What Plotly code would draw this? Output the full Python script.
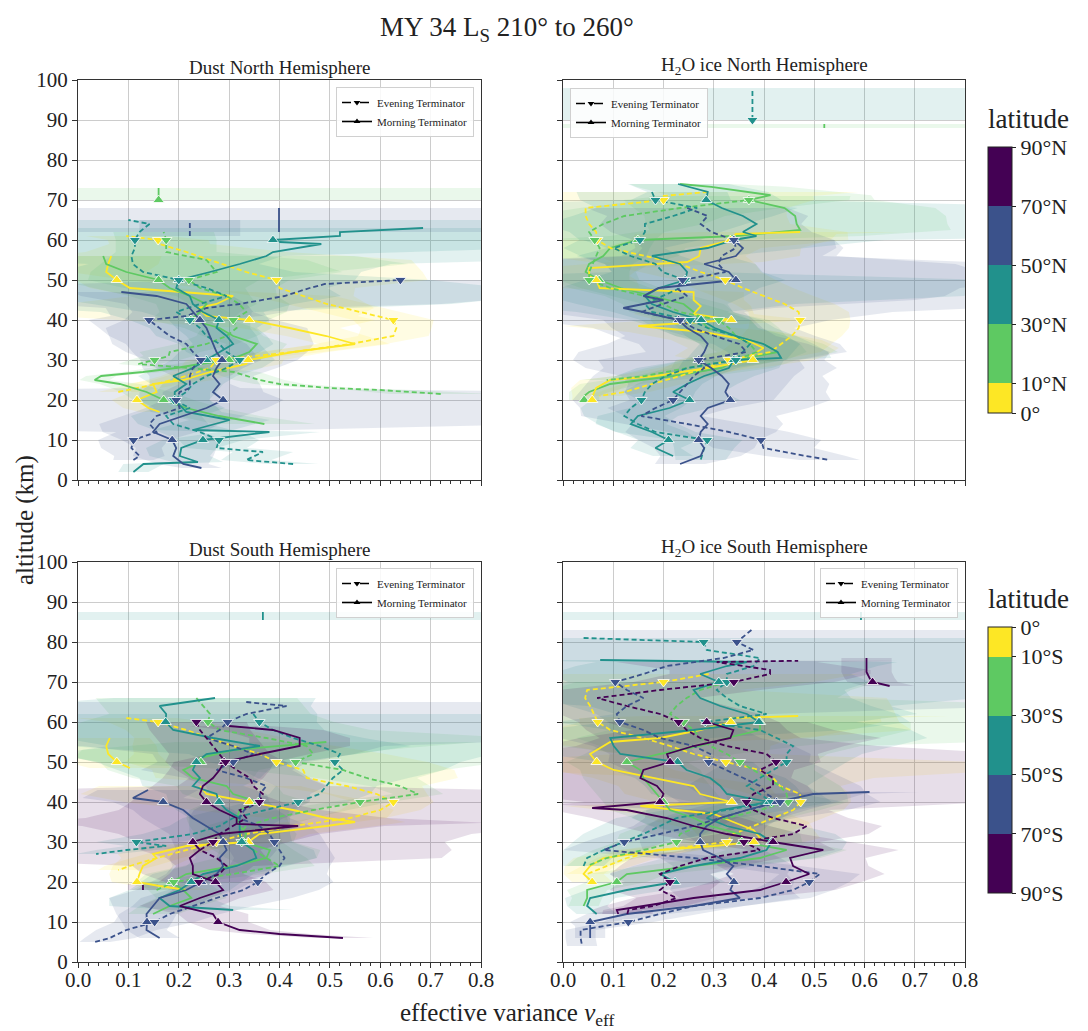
import plotly.graph_objects as go

FONT = "Liberation Serif, Times New Roman, serif"

# ---------------- colours of the latitude bins (viridis, 5 bins) ----------------
COL = {"Y": (253, 231, 37), "G": (94, 201, 98), "T": (33, 145, 140),
       "B": (59, 82, 139), "P": (68, 1, 84)}

# ---------------- tick labels ----------------
CB_N_VALS = [0, 10, 30, 50, 70, 90]
CB_N_TEXT = ["0°", "10°N", "30°N", "50°N", "70°N", "90°N"]
CB_S_VALS = [-90, -70, -50, -30, -10, 0]
CB_S_TEXT = ["90°S", "70°S", "50°S", "30°S", "10°S", "0°"]
PANEL_TITLES = ["Dust North Hemisphere", "H<sub>2</sub>O ice North Hemisphere",
                "Dust South Hemisphere", "H<sub>2</sub>O ice South Hemisphere"]

# ---------------- profiles: rows of [altitude km, nu_eff, uncertainty] ----------------
# Dust North
DN_Y_M = [[17,0.162,0.04],[18,0.14,0.05],[20,0.117,0.05],[22,0.156,0.05],[24,0.149,0.06],[25,0.209,0.06],[27,0.262,0.06],[29,0.334,0.07],[30,0.338,0.07],[32,0.427,0.07],[34,0.55,0.07],[36,0.493,0.08],[38,0.42,0.1],[40,0.34,0.25],[41,0.255,0.3],[43,0.238,0.35],[44,0.275,0.3],[46,0.308,0.2],[48,0.103,0.08],[50,0.077,0.08],[52,0.056,0.08],[54,0.06,0.1],[56,0.066,0.1]]
DN_Y_E = [[22,0.08,0.04],[24,0.156,0.05],[26,0.215,0.05],[28,0.262,0.06],[30,0.275,0.06],[32,0.427,0.06],[34,0.54,0.07],[36,0.626,0.07],[38,0.632,0.07],[40,0.626,0.08],[42,0.56,0.08],[44,0.494,0.08],[46,0.447,0.1],[48,0.40,0.15],[50,0.394,0.3],[52,0.334,0.35],[55,0.262,0.4],[57,0.215,0.2],[59,0.162,0.1],[60,0.159,0.1],[61,0.096,0.08]]
DN_G_M = [[14,0.37,0.1],[16,0.28,0.08],[18,0.215,0.07],[20,0.17,0.06],[22,0.136,0.05],[24,0.083,0.04],[25,0.033,0.03],[26,0.046,0.03],[27,0.129,0.04],[28,0.195,0.05],[29,0.242,0.05],[30,0.30,0.06],[32,0.34,0.06],[34,0.355,0.06],[36,0.308,0.06],[38,0.281,0.07],[40,0.224,0.08],[42,0.242,0.08],[44,0.255,0.1],[46,0.222,0.12],[48,0.182,0.15],[50,0.16,0.2],[52,0.096,0.4],[54,0.056,0.6],[56,0.05,0.5]]
DN_G_E = [[21.5,0.72,0.1],[22.5,0.6,0.06],[23,0.5,0.05],[24,0.40,0.05],[25,0.36,0.05],[27,0.31,0.05],[28,0.22,0.05],[29,0.12,0.04],[30,0.152,0.05],[31,0.18,0.05],[32,0.182,0.06],[34,0.255,0.06],[36,0.295,0.06],[38,0.315,0.07],[40,0.308,0.07],[42,0.334,0.08],[44,0.32,0.1],[46,0.295,0.1],[48,0.242,0.15],[50,0.22,0.2],[52,0.275,0.25],[55,0.255,0.2],[57,0.175,0.1],[60,0.175,0.1],[62,0.17,0.1]]
DN_G_M2 = [[70,0.16,0.8],[71.5,0.16,0.8],[73,0.16,0.8]]
DN_T_M = [[2,0.11,0.03],[4,0.13,0.04],[4.5,0.238,0.05],[6,0.202,0.06],[8,0.205,0.07],[10,0.248,0.08],[12,0.38,0.1],[12.5,0.228,0.08],[15,0.301,0.08],[17,0.215,0.07],[20,0.192,0.07],[22,0.192,0.07],[24,0.215,0.07],[26,0.189,0.07],[28,0.228,0.07],[30,0.255,0.07],[32,0.281,0.08],[34,0.308,0.08],[36,0.295,0.08],[38,0.275,0.08],[40,0.28,0.1],[42,0.248,0.12],[44,0.228,0.2],[46,0.222,0.3],[48,0.195,0.3],[50,0.20,0.35],[52,0.262,0.3],[54,0.321,0.3],[56,0.374,0.8],[57,0.387,0.8],[59,0.483,0.8],[59.5,0.40,0.8],[60,0.387,0.8],[61,0.52,0.8],[62,0.52,0.8],[63,0.685,0.8]]
DN_T_E = [[4,0.427,0.05],[5,0.334,0.05],[7,0.367,0.06],[8,0.275,0.06],[10,0.28,0.08],[12,0.242,0.08],[14,0.189,0.07],[16,0.175,0.07],[18,0.222,0.07],[20,0.19,0.07],[22,0.215,0.06],[24,0.228,0.06],[26,0.255,0.06],[28,0.295,0.07],[30,0.321,0.07],[32,0.295,0.08],[34,0.281,0.08],[36,0.255,0.1],[38,0.242,0.1],[40,0.222,0.12],[42,0.195,0.15],[44,0.242,0.5],[46,0.295,0.6],[48,0.255,0.6],[50,0.20,0.5],[52,0.129,0.3],[54,0.109,0.25],[56,0.106,0.3],[58,0.113,0.8],[60,0.113,0.8],[62,0.122,0.8],[64,0.142,0.8],[65,0.10,0.8]]
DN_B_M = [[3,0.245,0.04],[4,0.209,0.05],[6,0.189,0.08],[8,0.195,0.08],[10,0.187,0.1],[12,0.149,0.1],[14,0.162,0.12],[16,0.209,0.12],[18,0.255,0.12],[20,0.288,0.12],[22,0.268,0.1],[24,0.281,0.08],[26,0.268,0.08],[28,0.275,0.12],[30,0.286,0.15],[32,0.275,0.18],[34,0.268,0.2],[36,0.262,0.2],[38,0.255,0.2],[40,0.242,0.15],[42,0.228,0.12],[44,0.215,0.12],[46,0.156,0.15],[47,0.086,0.1]]
DN_B_M2 = [[62,0.399,0.8],[65,0.399,0.8],[68,0.399,0.8]]
DN_B_E = [[5,0.11,0.04],[6,0.122,0.05],[8,0.106,0.06],[10,0.11,0.07],[12,0.156,0.08],[14,0.142,0.8],[16,0.156,0.8],[18,0.202,0.8],[20,0.195,0.8],[22,0.202,0.8],[23,0.222,0.1],[24,0.222,0.08],[26,0.222,0.08],[28,0.228,0.1],[30,0.244,0.12],[32,0.228,0.12],[34,0.215,0.12],[36,0.182,0.12],[38,0.162,0.12],[40,0.141,0.12],[41,0.215,0.15],[43,0.255,0.2],[44,0.321,0.4],[46,0.41,0.5],[48,0.46,0.5],[49,0.49,0.5],[50,0.64,0.4]]
DN_B_E2 = [[61,0.222,0.1],[63,0.222,0.1],[65,0.222,0.1]]

# H2O ice North
IN_T_E2 = [[90,0.377,0.8],[94,0.377,0.8],[98,0.377,0.8]]
IN_G_M2 = [[88,0.52,0.8],[89,0.52,0.8]]
IN_G_M = [[74,0.233,0.1],[73.3,0.295,0.15],[71.2,0.413,0.2],[70,0.37,0.25],[68,0.441,0.3],[66,0.462,0.3],[64,0.465,0.3],[62.5,0.472,0.3],[61,0.344,0.25],[60,0.149,0.2],[58,0.094,0.15],[56,0.08,0.15],[54,0.052,0.12],[52,0.045,0.1],[50,0.072,0.08],[48,0.115,0.08],[46,0.177,0.08],[44,0.24,0.08],[42,0.26,0.08],[40,0.274,0.1],[38,0.288,0.1],[36,0.344,0.12],[34,0.399,0.12],[32,0.427,0.12],[30,0.344,0.12],[28,0.316,0.1],[26,0.219,0.08],[24,0.094,0.06],[22,0.052,0.04],[21,0.042,0.03],[20,0.042,0.03]]
IN_Y_M = [[62,0.472,0.2],[61.5,0.344,0.2],[60,0.333,0.2],[58,0.274,0.2],[56,0.271,0.2],[54.5,0.247,0.15],[53,0.052,0.1],[51,0.052,0.08],[50,0.066,0.08],[48,0.073,0.08],[47,0.26,0.1],[45,0.26,0.1],[43.5,0.274,0.1],[41.5,0.26,0.12],[40,0.335,0.15],[38.5,0.15,0.15],[37,0.281,0.15],[35,0.365,0.15],[33,0.399,0.15],[31,0.372,0.15],[30,0.378,0.12],[28,0.288,0.1],[26,0.184,0.08],[25,0.094,0.06],[23,0.066,0.05],[21,0.059,0.04],[20,0.058,0.04]]
IN_Y_E = [[72,0.288,0.3],[71,0.198,0.3],[70,0.20,0.3],[68,0.045,0.4],[66,0.045,0.4],[64,0.052,0.4],[62,0.066,0.5],[60,0.068,0.5],[58,0.094,0.3],[56,0.163,0.2],[54,0.233,0.15],[52,0.274,0.12],[50,0.323,0.1],[48,0.358,0.1],[46,0.399,0.1],[44,0.441,0.1],[42,0.469,0.1],[40,0.472,0.1],[38,0.469,0.1],[36,0.455,0.1],[34,0.434,0.1],[32,0.413,0.1],[30,0.33,0.1],[28,0.281,0.08],[26,0.233,0.07],[24,0.177,0.06],[22,0.122,0.05],[21,0.073,0.04]]
IN_G_E = [[71,0.372,0.2],[70,0.37,0.2],[68,0.233,0.2],[66,0.122,0.2],[64,0.08,0.2],[62,0.052,0.15],[60,0.063,0.12],[58,0.073,0.1],[56,0.066,0.1],[54,0.059,0.08],[52,0.052,0.08],[50,0.052,0.08],[48,0.094,0.08],[46,0.163,0.08],[44,0.198,0.08],[42,0.233,0.1],[40,0.31,0.1],[38,0.33,0.1],[36,0.344,0.1],[34,0.372,0.1],[32,0.385,0.1],[30,0.344,0.1],[28,0.247,0.08],[26,0.163,0.06],[25,0.087,0.05]]
IN_T_M = [[74,0.229,0.1],[72,0.288,0.12],[70,0.285,0.15],[68,0.316,0.8],[66,0.358,0.8],[64,0.385,0.8],[62,0.358,0.8],[61,0.385,0.8],[60,0.34,0.3],[58,0.288,0.2],[56,0.177,0.15],[54,0.233,0.15],[52,0.247,0.15],[50,0.243,0.2],[48,0.191,0.2],[46,0.163,0.2],[44,0.177,0.15],[42,0.219,0.12],[40,0.275,0.12],[38,0.302,0.12],[36,0.344,0.12],[34,0.399,0.1],[32,0.427,0.1],[30.5,0.434,0.1],[30,0.34,0.1],[28,0.33,0.1],[26,0.281,0.1],[24,0.247,0.1],[22,0.219,0.1],[20,0.252,0.1],[18,0.212,0.08],[16,0.149,0.08],[14,0.135,0.07],[12,0.177,0.07],[10,0.21,0.06],[8,0.184,0.05],[6,0.219,0.04]]
IN_T_E = [[72,0.177,0.15],[70,0.184,0.15],[68,0.267,0.2],[66,0.219,0.2],[64,0.163,0.2],[62,0.163,0.15],[60,0.153,0.12],[58,0.101,0.1],[56,0.135,0.1],[54,0.184,0.1],[52,0.198,0.1],[50,0.243,0.6],[48,0.233,0.6],[46,0.198,0.6],[44,0.163,0.3],[42,0.177,0.15],[40,0.253,0.12],[38,0.288,0.1],[36,0.344,0.1],[34,0.372,0.1],[32,0.358,0.1],[30,0.344,0.1],[28,0.247,0.1],[26,0.205,0.1],[24,0.177,0.1],[22,0.163,0.1],[20,0.156,0.1],[18,0.135,0.1],[16,0.122,0.08],[14,0.149,0.08],[12,0.184,0.08],[10,0.287,0.07],[8,0.281,0.06],[5,0.274,0.05]]
IN_B_M = [[60,0.34,0.2],[58,0.358,0.2],[56,0.344,0.2],[54,0.281,0.5],[52,0.33,0.5],[50,0.344,0.6],[48,0.19,0.6],[46,0.16,0.6],[45,0.2,0.5],[43,0.12,0.3],[42,0.16,0.2],[40,0.23,0.15],[38,0.247,0.15],[36,0.274,0.15],[34,0.288,0.2],[32,0.281,0.25],[30,0.27,0.25],[28,0.295,0.25],[26,0.316,0.2],[24,0.33,0.2],[22,0.323,0.2],[20,0.333,0.2],[18,0.288,0.2],[16,0.274,0.15],[14,0.288,0.15],[12,0.274,0.15],[10,0.27,0.12],[8,0.281,0.1],[6,0.274,0.08],[4,0.233,0.05]]
IN_B_E = [[68,0.247,0.2],[66,0.288,0.2],[64,0.274,0.2],[62,0.295,0.2],[60,0.34,0.2],[58,0.344,0.2],[56,0.316,0.2],[54,0.309,0.6],[52,0.323,0.6],[50,0.238,0.8],[48,0.226,0.8],[46,0.247,0.8],[44,0.198,0.8],[42,0.156,0.5],[40,0.233,0.3],[38,0.26,0.2],[36,0.302,0.2],[34,0.351,0.2],[32,0.365,0.2],[30,0.27,0.2],[28,0.281,0.2],[26,0.26,0.2],[24,0.247,0.2],[22,0.233,0.2],[20,0.219,0.2],[18,0.184,0.15],[16,0.156,0.12],[14,0.247,0.12],[12,0.33,0.12],[10,0.394,0.12],[8,0.399,0.1],[6,0.483,0.08],[5,0.531,0.06]]

# Dust South
DS_T_M2 = [[85.5,0.367,0.8],[86.5,0.367,0.8],[87.5,0.367,0.8]]
DS_Y_M = [[56,0.063,0.08],[54,0.056,0.1],[52,0.06,0.1],[50,0.077,0.1],[48.5,0.103,0.08]]
DS_Y_M2 = [[44,0.242,0.2],[42,0.255,0.25],[40,0.34,0.25],[38,0.427,0.2],[36,0.493,0.12],[35,0.55,0.1],[34,0.493,0.1],[32,0.36,0.1],[30,0.338,0.08],[29,0.215,0.08],[28,0.182,0.08],[27,0.149,0.07],[26,0.156,0.07],[24,0.129,0.06],[22,0.122,0.06],[20,0.117,0.05],[19,0.162,0.05],[18,0.215,0.05]]
DS_Y_E = [[61,0.096,0.1],[60,0.159,0.1],[58,0.215,0.12],[56,0.262,0.15],[54,0.308,0.2],[52,0.361,0.25],[50,0.394,0.3],[48,0.447,0.3],[46,0.454,0.3],[44,0.533,0.15],[42,0.593,0.1],[40,0.626,0.08],[38,0.60,0.08],[36,0.54,0.07],[34,0.427,0.07],[32,0.334,0.06],[30,0.275,0.06],[28,0.215,0.05],[26,0.156,0.05],[24,0.103,0.05],[23,0.08,0.04]]
DS_G_M = [[55,0.493,0.3],[53,0.308,0.3],[51,0.242,0.25],[50,0.244,0.2],[48,0.209,0.15],[46,0.228,0.12],[44,0.295,0.1],[42,0.308,0.1],[40,0.358,0.1],[38,0.321,0.1],[36,0.315,0.1],[34,0.321,0.1],[32,0.334,0.1],[30,0.328,0.1],[28,0.381,0.1],[26,0.374,0.1],[24,0.308,0.1],[22,0.215,0.08],[20,0.186,0.07],[18,0.209,0.07],[16,0.225,0.07],[14,0.182,0.06],[12,0.149,0.05]]
DS_G_E = [[66,0.235,0.2],[64,0.248,0.2],[62,0.262,0.2],[60,0.258,0.25],[58,0.281,0.3],[56,0.374,0.5],[54,0.454,0.5],[52,0.467,0.5],[50,0.432,0.4],[48,0.526,0.2],[46,0.573,0.1],[44,0.639,0.06],[42,0.675,0.05],[40,0.56,0.06],[38,0.467,0.07],[36,0.387,0.08],[34,0.334,0.08],[32,0.321,0.08],[30,0.325,0.08],[28,0.348,0.08],[26,0.374,0.08],[24,0.40,0.07],[22,0.308,0.06],[20,0.19,0.05],[18,0.156,0.05]]
DS_T_M = [[66,0.272,0.2],[64,0.162,0.3],[62,0.175,0.3],[60,0.174,0.3],[58,0.189,0.3],[56,0.268,0.3],[54,0.361,0.3],[52,0.255,0.3],[50,0.235,0.2],[48,0.228,0.15],[46,0.242,0.12],[44,0.228,0.1],[42,0.275,0.1],[40,0.28,0.1],[38,0.295,0.1],[36,0.321,0.1],[34,0.321,0.1],[32,0.321,0.1],[30,0.325,0.1],[28,0.348,0.12],[26,0.354,0.12],[24,0.315,0.1],[22,0.248,0.1],[20,0.225,0.1],[18,0.202,0.1],[16,0.162,0.1],[14,0.182,0.12],[13,0.308,0.12]]
DS_T_E = [[62,0.348,0.8],[60,0.36,0.8],[58,0.387,0.8],[56,0.427,0.8],[54,0.48,0.5],[52,0.52,0.3],[50,0.51,0.25],[48,0.526,0.2],[46,0.506,0.15],[44,0.493,0.1],[42,0.48,0.1],[40,0.437,0.1],[38,0.374,0.1],[36,0.308,0.1],[34,0.281,0.1],[32,0.228,0.1],[30,0.116,0.08],[29,0.175,0.08],[28,0.096,0.06],[27,0.036,0.04]]
DS_B_M = [[43,0.139,0.1],[41,0.109,0.1],[40,0.169,0.1],[38,0.209,0.1],[36,0.228,0.1],[34,0.255,0.1],[32,0.281,0.1],[30,0.288,0.1],[28,0.295,0.1],[26,0.281,0.1],[24,0.288,0.1],[22,0.275,0.1],[20,0.245,0.1],[18,0.215,0.1],[16,0.162,0.1],[14,0.149,0.08],[12,0.136,0.06],[10,0.137,0.05],[8,0.136,0.04],[6,0.162,0.04]]
DS_B_E = [[65,0.334,0.8],[64,0.414,0.8],[62,0.334,0.8],[60,0.297,0.8],[58,0.281,0.8],[56,0.255,0.8],[54,0.308,0.3],[52,0.348,0.2],[50,0.308,0.15],[48,0.275,0.15],[46,0.334,0.12],[44,0.374,0.12],[42,0.361,0.1],[40,0.36,0.1],[38,0.33,0.1],[36,0.32,0.1],[34,0.36,0.1],[32,0.38,0.1],[30,0.39,0.1],[28,0.40,0.1],[26,0.41,0.1],[24,0.40,0.1],[22,0.374,0.12],[20,0.357,0.15],[18,0.328,0.15],[16,0.275,0.15],[14,0.228,0.12],[12,0.182,0.1],[10,0.152,0.08],[8,0.096,0.06],[6,0.063,0.05],[5,0.033,0.03]]
DS_P_M = [[6,0.526,0.06],[7,0.40,0.06],[8,0.321,0.06],[10,0.278,0.06],[12,0.268,0.07],[14,0.202,0.08],[16,0.242,0.08],[18,0.288,0.1],[20,0.273,0.1],[22,0.228,0.1],[24,0.228,0.12],[26,0.222,0.5],[28,0.242,0.5],[30,0.228,0.5],[32,0.281,0.5],[34,0.437,0.5],[34.5,0.315,0.5],[36,0.315,0.3],[38,0.281,0.2],[40,0.255,0.15],[42,0.242,0.12],[44,0.248,0.1],[46,0.268,0.1],[48,0.281,0.1],[50,0.29,0.1],[52,0.361,0.1],[54,0.44,0.1],[56,0.44,0.1],[58,0.387,0.1],[59,0.30,0.08]]
DS_P_E = [[60,0.235,0.1],[58,0.242,0.1],[56,0.255,0.1],[54,0.268,0.1],[52,0.281,0.1],[50,0.293,0.12],[48,0.315,0.12],[46,0.341,0.12],[44,0.348,0.15],[42,0.367,0.8],[40,0.36,0.8],[38,0.321,0.8],[36,0.334,0.8],[34,0.308,0.3],[32,0.281,0.2],[30,0.268,0.15],[28,0.242,0.12],[26,0.275,0.1],[24,0.295,0.1],[22,0.281,0.1],[20,0.24,0.08]]
DS_P_E2 = [[18,0.129,0.03],[19.5,0.129,0.03]]

# H2O ice South
IS_T_M2 = [[85.5,0.593,0.8],[86.5,0.593,0.8],[87.5,0.593,0.8]]
IS_P_M2 = [[76,0.604,0.05],[72.5,0.604,0.05],[71,0.61,0.05],[70,0.616,0.05],[69,0.65,0.05]]
IS_Y_M = [[61.5,0.468,0.3],[61,0.332,0.3],[60,0.334,0.3],[58,0.273,0.3],[56,0.193,0.3],[55,0.094,0.2],[52,0.054,0.15],[50,0.067,0.12],[48,0.101,0.12],[46,0.18,0.12],[44,0.26,0.15],[42,0.273,0.15],[40,0.336,0.15],[39,0.154,0.15],[37,0.30,0.15],[35,0.339,0.15],[33,0.379,0.12],[31,0.392,0.12],[30,0.38,0.1],[29,0.30,0.1],[28,0.193,0.08],[26,0.081,0.06],[24,0.054,0.05],[22,0.041,0.04],[20,0.058,0.04]]
IS_Y_E = [[72,0.29,0.3],[70,0.20,0.3],[68,0.048,0.3],[66,0.044,0.6],[64,0.054,0.6],[62,0.061,0.6],[60,0.069,0.6],[58,0.094,0.6],[56,0.16,0.3],[54,0.213,0.2],[52,0.26,0.15],[50,0.324,0.5],[48,0.392,0.5],[46,0.418,0.2],[44,0.432,0.12],[42,0.472,0.1],[40,0.473,0.1],[38,0.458,0.1],[36,0.418,0.1],[34,0.379,0.1],[32,0.339,0.1],[30,0.326,0.1],[28,0.193,0.08],[26,0.127,0.06],[24,0.087,0.05],[22,0.048,0.04]]
IS_G_M = [[60,0.392,0.3],[58,0.392,0.3],[56,0.326,0.3],[54,0.273,0.2],[52,0.193,0.15],[50,0.127,0.12],[48,0.154,0.12],[46,0.16,0.12],[44,0.173,0.12],[42,0.187,0.12],[40,0.2,0.12],[38,0.213,0.12],[36,0.26,0.12],[34,0.293,0.12],[32,0.352,0.12],[30,0.356,0.12],[28,0.445,0.12],[26,0.392,0.12],[24,0.26,0.1],[22,0.127,0.08],[20,0.107,0.06],[18,0.048,0.04],[16,0.048,0.03],[14,0.041,0.03]]
IS_G_E = [[70,0.326,0.3],[68,0.273,0.3],[66,0.246,0.3],[64,0.226,0.8],[62,0.213,0.8],[60,0.24,0.8],[58,0.26,0.8],[56,0.273,0.8],[54,0.293,0.3],[52,0.326,0.2],[50,0.352,0.15],[48,0.379,0.12],[46,0.405,0.12],[44,0.432,0.12],[42,0.445,0.12],[40,0.448,0.12],[38,0.392,0.12],[36,0.326,0.12],[34,0.273,0.12],[32,0.233,0.12],[30,0.226,0.12],[28,0.16,0.1],[26,0.087,0.06],[24,0.048,0.04]]
IS_T_M = [[75.5,0.074,0.2],[75,0.366,0.3],[74,0.326,0.3],[72,0.273,0.3],[70,0.31,0.3],[68,0.26,0.3],[66,0.273,0.3],[64,0.313,0.3],[62,0.366,0.3],[60,0.39,0.3],[58,0.26,0.3],[56,0.094,0.2],[54,0.101,0.15],[52,0.114,0.15],[50,0.228,0.15],[48,0.246,0.15],[46,0.293,0.15],[44,0.313,0.15],[42,0.326,0.15],[40,0.41,0.15],[38,0.313,0.15],[36,0.286,0.15],[34,0.326,0.15],[32,0.392,0.15],[30,0.415,0.15],[28,0.405,0.15],[26,0.352,0.15],[24,0.26,0.12],[22,0.193,0.1],[20,0.223,0.1],[18,0.127,0.08],[16,0.054,0.05],[14,0.048,0.04],[12,0.067,0.04]]
IS_T_E = [[81,0.041,0.8],[80,0.28,0.8],[78,0.286,0.8],[76,0.392,0.8],[74,0.379,0.8],[72,0.326,0.8],[70,0.326,0.8],[68,0.306,0.8],[66,0.326,0.5],[64,0.352,0.3],[62,0.405,0.3],[60,0.283,0.3],[58,0.392,0.3],[56,0.425,0.3],[54,0.458,0.2],[52,0.445,0.15],[50,0.445,0.12],[48,0.418,0.12],[46,0.392,0.12],[44,0.366,0.12],[42,0.392,0.12],[40,0.415,0.12],[38,0.326,0.12],[36,0.226,0.12],[34,0.193,0.12],[32,0.16,0.12],[30,0.12,0.1],[28,0.081,0.08],[26,0.048,0.05],[24,0.041,0.04]]
IS_B_M = [[42.5,0.61,0.1],[42,0.498,0.1],[40,0.425,0.12],[38,0.366,0.12],[36,0.313,0.12],[34,0.286,0.12],[32,0.273,0.12],[30,0.273,0.12],[28,0.279,0.12],[26,0.313,0.12],[24,0.339,0.12],[22,0.326,0.12],[20,0.34,0.12],[18,0.333,0.12],[16,0.352,0.12],[14,0.26,0.1],[12,0.127,0.08],[10,0.054,0.04],[9,0.054,0.03],[6,0.054,0.03]]
IS_B_E = [[83,0.375,0.8],[80,0.346,0.8],[78,0.379,0.8],[76,0.319,0.8],[74,0.207,0.8],[72,0.16,0.8],[70,0.104,0.8],[68,0.127,0.8],[66,0.16,0.8],[64,0.127,0.8],[62,0.107,0.3],[60,0.113,0.2],[58,0.16,0.2],[56,0.193,0.2],[54,0.26,0.2],[52,0.293,0.2],[50,0.29,0.2],[48,0.326,0.2],[46,0.359,0.2],[44,0.392,0.2],[42,0.405,0.2],[40,0.432,0.2],[38,0.366,0.2],[36,0.313,0.15],[34,0.26,0.12],[32,0.193,0.1],[30,0.122,0.08],[28,0.081,0.08],[26,0.26,0.08],[24,0.392,0.08],[22,0.511,0.08],[20,0.49,0.08],[18,0.458,0.08],[16,0.392,0.1],[14,0.26,0.1],[12,0.193,0.08],[10,0.13,0.05],[8,0.035,0.03],[6,0.035,0.03],[4,0.038,0.03]]
IS_P_M = [[12,0.11,0.05],[13,0.107,0.05],[14,0.16,0.08],[16,0.26,0.12],[18,0.392,0.15],[20,0.444,0.15],[22,0.49,0.15],[24,0.458,0.15],[26,0.452,0.15],[28,0.518,0.15],[30,0.418,0.15],[32,0.326,0.15],[34,0.26,0.15],[36,0.207,0.15],[38,0.127,0.15],[38.5,0.058,0.15],[40,0.193,0.15],[42,0.20,0.3],[44,0.187,0.3],[46,0.154,0.3],[48,0.16,0.3],[50,0.213,0.3],[52,0.207,0.3],[54,0.26,0.3],[56,0.333,0.3],[58,0.339,0.2],[60,0.286,0.2]]
IS_P_E = [[12,0.128,0.05],[13,0.13,0.05],[14,0.18,0.06],[16,0.226,0.08],[18,0.193,0.1],[20,0.213,0.1],[22,0.193,0.1],[24,0.233,0.12],[26,0.286,0.15],[28,0.392,0.15],[30,0.36,0.15],[32,0.458,0.15],[34,0.485,0.15],[36,0.418,0.15],[38,0.379,0.15],[40,0.365,0.5],[42,0.379,0.5],[44,0.418,0.5],[46,0.418,0.5],[48,0.392,0.5],[50,0.424,0.5],[52,0.405,0.5],[54,0.326,0.3],[56,0.273,0.2],[58,0.246,0.2],[60,0.23,0.2],[62,0.193,0.2],[64,0.127,0.2],[66,0.068,0.2],[68,0.193,0.2],[70,0.34,0.2],[72,0.412,0.2],[73,0.412,0.2],[75,0.306,0.2],[75.3,0.468,0.2]]

# (panel, latitude bin, terminator M=morning / E=evening, rows)
PROFILES = [
    (0, "Y", "M", DN_Y_M), (0, "Y", "E", DN_Y_E), (0, "G", "M", DN_G_M), (0, "G", "E", DN_G_E),
    (0, "G", "M", DN_G_M2), (0, "T", "M", DN_T_M), (0, "T", "E", DN_T_E), (0, "B", "M", DN_B_M),
    (0, "B", "M", DN_B_M2), (0, "B", "E", DN_B_E), (0, "B", "E", DN_B_E2),
    (1, "T", "E", IN_T_E2), (1, "G", "M", IN_G_M2), (1, "G", "M", IN_G_M), (1, "Y", "M", IN_Y_M),
    (1, "Y", "E", IN_Y_E), (1, "G", "E", IN_G_E), (1, "T", "M", IN_T_M), (1, "T", "E", IN_T_E),
    (1, "B", "M", IN_B_M), (1, "B", "E", IN_B_E),
    (2, "T", "M", DS_T_M2), (2, "Y", "M", DS_Y_M), (2, "Y", "M", DS_Y_M2), (2, "Y", "E", DS_Y_E),
    (2, "G", "M", DS_G_M), (2, "G", "E", DS_G_E), (2, "T", "M", DS_T_M), (2, "T", "E", DS_T_E),
    (2, "B", "M", DS_B_M), (2, "B", "E", DS_B_E), (2, "P", "M", DS_P_M), (2, "P", "E", DS_P_E),
    (2, "P", "E", DS_P_E2),
    (3, "T", "M", IS_T_M2), (3, "P", "M", IS_P_M2), (3, "Y", "M", IS_Y_M), (3, "Y", "E", IS_Y_E),
    (3, "G", "M", IS_G_M), (3, "G", "E", IS_G_E), (3, "T", "M", IS_T_M), (3, "T", "E", IS_T_E),
    (3, "B", "M", IS_B_M), (3, "B", "E", IS_B_E), (3, "P", "M", IS_P_M), (3, "P", "E", IS_P_E),
]

# ---------------- figure geometry (page draws the figure 8 px in from the corner) ----------------
OFF = 8
W, H = 1088 - OFF, 1031 - OFF


def PX(p):
    return (p - OFF) / W


def PY(p):
    return 1 - (p - OFF) / H


AX = [("x", "y"), ("x2", "y2"), ("x3", "y3"), ("x4", "y4")]


def rgb(c, a=None):
    if a is None:
        return "rgb(%d,%d,%d)" % c
    return "rgba(%d,%d,%d,%.3f)" % (c + (a,))


fig = go.Figure()

# uncertainty shading
for panel, band, term, rows in PROFILES:
    xa, ya = AX[panel]
    alts = [r[0] for r in rows]
    lo = [r[1] - r[2] for r in rows]
    hi = [r[1] + r[2] for r in rows]
    fig.add_trace(go.Scatter(x=lo + hi[::-1], y=alts + alts[::-1], fill="toself",
                             fillcolor=rgb(COL[band], 0.13), line=dict(width=0), mode="lines",
                             hoverinfo="skip", showlegend=False, xaxis=xa, yaxis=ya))

# profiles
for panel, band, term, rows in PROFILES:
    xa, ya = AX[panel]
    fig.add_trace(go.Scatter(x=[r[1] for r in rows], y=[r[0] for r in rows], mode="lines",
                             line=dict(color=rgb(COL[band]), width=1.8,
                                       dash="5px,3px" if term == "E" else "solid"),
                             showlegend=False, hoverinfo="skip", xaxis=xa, yaxis=ya))

# markers every 10 km
for panel, band, term, rows in PROFILES:
    xa, ya = AX[panel]
    mk = [r for r in rows if r[0] % 10 == 0]
    if not mk:
        continue
    fig.add_trace(go.Scatter(x=[r[1] for r in mk], y=[r[0] for r in mk], mode="markers",
                             marker=dict(symbol="triangle-down" if term == "E" else "triangle-up",
                                         size=10, color=rgb(COL[band]),
                                         line=dict(color="white", width=0.8)),
                             showlegend=False, hoverinfo="skip", xaxis=xa, yaxis=ya))

# legends (one per panel)
LEG = ["legend", "legend2", "legend3", "legend4"]
for i, (xa, ya) in enumerate(AX):
    for name, dash, sym in [("Evening Terminator", "dash", "triangle-down"),
                            ("Morning Terminator", "solid", "triangle-up")]:
        fig.add_trace(go.Scatter(x=[None], y=[None], mode="lines+markers", name=name,
                                 line=dict(color="black", width=1.6, dash=dash),
                                 marker=dict(symbol=sym, size=6, color="black"),
                                 legend=LEG[i], xaxis=xa, yaxis=ya))

# discrete colour bars
Yc, Gc, Tc, Bc, Pc = [rgb(COL[k]) for k in "YGTBP"]
CS_N = [[0, Yc], [10/90, Yc], [10/90, Gc], [30/90, Gc], [30/90, Tc], [50/90, Tc],
        [50/90, Bc], [70/90, Bc], [70/90, Pc], [1, Pc]]
CS_S = [[0, Pc], [20/90, Pc], [20/90, Bc], [40/90, Bc], [40/90, Tc], [60/90, Tc],
        [60/90, Gc], [80/90, Gc], [80/90, Yc], [1, Yc]]
cb_common = dict(thickness=24, len=266, lenmode="pixels", x=PX(988), xanchor="left", xpad=0,
                 ypad=0, outlinewidth=1, outlinecolor="#222", ticks="outside", ticklen=4,
                 tickcolor="#222", tickfont=dict(family=FONT, size=22, color="#222"))
fig.add_trace(go.Scatter(x=[None], y=[None], mode="markers", showlegend=False, xaxis="x", yaxis="y",
                         marker=dict(color=[0], cmin=0, cmax=90, colorscale=CS_N, showscale=True,
                                     colorbar=dict(y=PY(280), yanchor="middle", tickvals=CB_N_VALS,
                                                   ticktext=CB_N_TEXT, **cb_common))))
fig.add_trace(go.Scatter(x=[None], y=[None], mode="markers", showlegend=False, xaxis="x3", yaxis="y3",
                         marker=dict(color=[0], cmin=-90, cmax=0, colorscale=CS_S, showscale=True,
                                     colorbar=dict(y=PY(760), yanchor="middle", tickvals=CB_S_VALS,
                                                   ticktext=CB_S_TEXT, **cb_common))))

XD = [[PX(78), PX(481)], [PX(563), PX(965)]]
YD = [[PY(480), PY(80)], [PY(962), PY(562)]]
layout = dict(width=W, height=H, autosize=False,
              margin=dict(l=0, r=0, t=0, b=0, pad=0, autoexpand=False),
              paper_bgcolor="white", plot_bgcolor="white",
              font=dict(family=FONT, color="#222"))
tickfont = dict(family=FONT, size=21, color="#222")
for i in range(4):
    row, col = divmod(i, 2)
    sx = "" if i == 0 else str(i + 1)
    layout["xaxis" + sx] = dict(domain=XD[col], range=[0, 0.8], anchor="y" + sx, tick0=0, dtick=0.1,
                                tickformat=".1f", showticklabels=(row == 1), ticks="outside", ticklen=5,
                                tickcolor="#333", showgrid=True, gridcolor="#cccccc", gridwidth=1,
                                showline=True, linecolor="#333", linewidth=1.2, mirror=True,
                                zeroline=False, tickfont=tickfont, automargin=False,
                                ticklabelstandoff=-6,
                                minor=dict(dtick=0.02, ticks="outside", ticklen=3, tickcolor="#333",
                                           showgrid=False))
    layout["yaxis" + sx] = dict(domain=YD[row], range=[0, 100], anchor="x" + sx, tick0=0, dtick=10,
                                showticklabels=(col == 0), ticks="outside", ticklen=5, tickcolor="#333",
                                showgrid=True, gridcolor="#cccccc", gridwidth=1, showline=True,
                                linecolor="#333", linewidth=1.2, mirror=True, zeroline=False,
                                tickfont=tickfont, automargin=False)

leg_common = dict(bgcolor="rgba(255,255,255,0.85)", bordercolor="#d0d0d0", borderwidth=1,
                  font=dict(family=FONT, size=11, color="#222"), tracegroupgap=0, itemwidth=30,
                  yanchor="top")
layout["legend"] = dict(x=PX(474), y=PY(87), xanchor="right", **leg_common)
layout["legend2"] = dict(x=PX(570), y=PY(88), xanchor="left", **leg_common)
layout["legend3"] = dict(x=PX(474), y=PY(568), xanchor="right", **leg_common)
layout["legend4"] = dict(x=PX(958), y=PY(568), xanchor="right", **leg_common)

ann = []
centers = [PX((78 + 481) / 2), PX((563 + 965) / 2)]
for i, t in enumerate(PANEL_TITLES):
    row, col = divmod(i, 2)
    ann.append(dict(text=t, x=centers[col], y=YD[row][1], xref="paper", yref="paper",
                    xanchor="center", yanchor="bottom", showarrow=False,
                    font=dict(family=FONT, size=19, color="#222")))
ann.append(dict(text="MY 34 L<sub>S</sub> 210° to 260°", x=PX(507), y=PY(29), xref="paper",
                yref="paper", xanchor="center", yanchor="middle", showarrow=False,
                font=dict(family=FONT, size=27, color="#222")))
ann.append(dict(text="altitude (km)", x=PX(25), y=PY(520), xref="paper", yref="paper", textangle=-90,
                xanchor="center", yanchor="middle", showarrow=False,
                font=dict(family=FONT, size=25, color="#222")))
ann.append(dict(text="effective variance <i>ν</i><sub>eff</sub>", x=PX(507), y=PY(1014), xref="paper",
                yref="paper", xanchor="center", yanchor="middle", showarrow=False,
                font=dict(family=FONT, size=25, color="#222")))
for yc in (119, 599):
    ann.append(dict(text="latitude", x=PX(986), y=PY(yc), xref="paper", yref="paper",
                    xanchor="left", yanchor="middle", showarrow=False,
                    font=dict(family=FONT, size=27, color="#222")))
layout["annotations"] = ann

fig.update_layout(**layout)
fig.write_html("out.html")
